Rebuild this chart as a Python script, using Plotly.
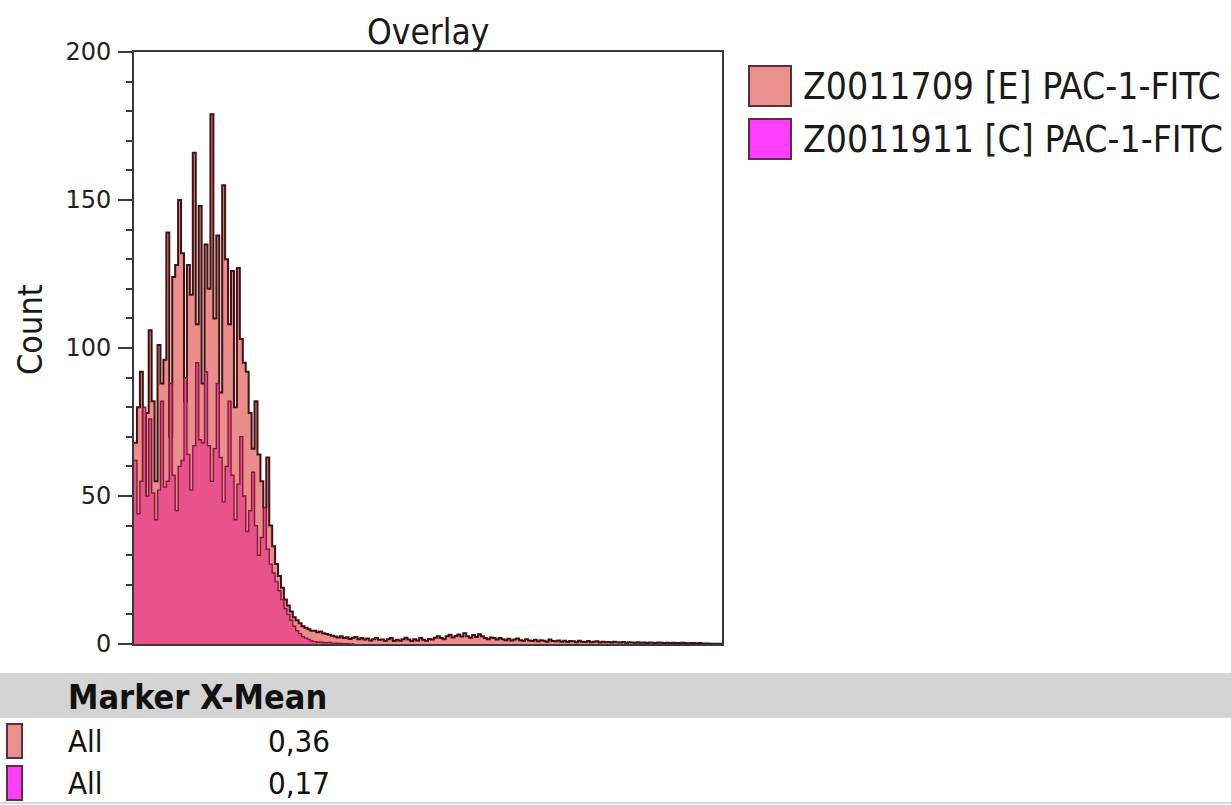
import plotly.graph_objects as go

# ---------------- data ----------------
series_names = ["Z0011709 [E] PAC-1-FITC", "Z0011911 [C] PAC-1-FITC"]
marker_labels = ["All", "All"]
x_means = ["0,36", "0,17"]
y_ticks = [0, 50, 100, 150, 200]

# counts per channel bin (200 bins across the axis)
counts_E = [
    68, 80, 92, 45, 78, 106, 82, 55, 101, 88,
    96, 139, 70, 124, 128, 150, 132, 82, 128, 118,
    166, 108, 148, 88, 135, 120, 179, 110, 138, 85,
    155, 130, 108, 126, 80, 127, 103, 95, 92, 78,
    66, 82, 64, 55, 46, 63, 40, 33, 27, 23,
    19, 15, 13, 11, 9, 8, 7, 6, 5.5, 5,
    4.5,
    4.5, 4, 4.2, 3.6, 3.4, 3.1,
    2.8, 2.5, 2.2, 2.6, 2.0, 2.3, 1.7, 2.1, 2.4, 1.6, 2.0, 1.5, 1.9, 1.2, 1.6, 2.0, 1.4,
    1.5, 1.1, 1.6, 2.0, 1.0, 1.4, 1.1, 1.6, 2.1, 1.5, 1.0, 1.6, 1.2, 2.0, 1.4, 1.1, 1.7,
    1.5, 2.1, 2.6, 2.0, 1.6, 2.6, 3.1, 2.2, 2.7, 3.2, 2.5, 3.6, 2.6, 2.1, 3.0, 2.4, 3.3, 2.6,
    2.0, 1.6, 2.2, 2.0, 1.5, 2.0,
    1.6, 1.3, 1.8, 1.2, 1.5, 1.9, 1.3, 1.1, 1.6, 1.2, 1.0, 1.4, 0.9, 1.3, 1.1, 0.8, 1.5, 1.0,
    0.9, 1.2, 0.8, 1.1, 0.7, 1.0, 0.9, 0.6, 1.1, 0.8, 0.7, 1.0, 0.6, 0.8, 0.9, 0.5, 0.8, 0.6,
    0.7, 0.5, 0.8, 0.6, 0.5, 0.7, 0.4, 0.6,
    0.5, 0.4, 0.6, 0.4, 0.5, 0.3, 0.5, 0.4, 0.3, 0.5, 0.4, 0.3, 0.4, 0.3, 0.4, 0.3, 0.3, 0.4,
    0.3, 0.2, 0.3, 0.3, 0.2, 0.3, 0.2, 0.2, 0.2, 0.1, 0.1, 0.1, 0.1,
]

counts_C = [
    62, 44, 55, 80, 50, 76, 51, 42, 52, 82,
    53, 55, 88, 57, 45, 60, 62, 90, 64, 52,
    67, 95, 69, 68, 92, 67, 55, 66, 88, 63,
    48, 60, 82, 57, 42, 54, 70, 50, 38, 45,
    58, 40, 30, 36, 46, 32, 27, 24, 21, 18,
    15, 12, 10, 8, 6, 4.5, 3.5, 2.5, 2, 1.5,
    1, 0.8, 0.6, 0.7, 0.5, 0.4, 0.5, 0.3, 0.3, 0.2,
    0.2, 0.1, 0.1, 0, 0,
]

# ---------------- styles ----------------
FILL_E = "#ec8d8b"
LINE_E = "#3e1212"
FILL_C = "#ea528c"
LINE_C = "#7a1d3c"
SWATCH_E = "#e9908c"
SWATCH_C = "#ff3dff"
FONT = "DejaVu Sans Condensed"

W, H = 1231, 805
PL, PR, PT, PB = 134, 722, 52, 644


def xp(px):
    return (px - PL) / (PR - PL)


def yp(py):
    return (PB - py) / (PB - PT)


def step_xy(vals):
    xs = list(range(len(vals))) + [len(vals)]
    ys = list(vals) + [vals[-1]]
    return xs, ys


fig = go.Figure()
xe, ye = step_xy(counts_E)
fig.add_trace(go.Scatter(x=xe, y=ye, mode="lines", line=dict(shape="hv", color=LINE_E, width=2),
                         fill="tozeroy", fillcolor=FILL_E, name=series_names[0], showlegend=False,
                         hoverinfo="skip"))
xc, yc = step_xy(counts_C)
fig.add_trace(go.Scatter(x=xc, y=yc, mode="lines", line=dict(shape="hv", color=LINE_C, width=1.4),
                         fill="tozeroy", fillcolor=FILL_C, name=series_names[1], showlegend=False,
                         hoverinfo="skip"))

shapes = []
annotations = []

# title
annotations.append(dict(text="Overlay", x=xp(428), y=yp(32), xref="paper", yref="paper",
                        showarrow=False, font=dict(family=FONT, size=35, color="#1a1a1a"),
                        xanchor="center", yanchor="middle"))
# y title
annotations.append(dict(text="Count", x=xp(30), y=yp(330), xref="paper", yref="paper",
                        showarrow=False, textangle=-90, font=dict(family=FONT, size=34, color="#1a1a1a"),
                        xanchor="center", yanchor="middle"))

# legend
leg_rows = [(86, SWATCH_E), (139, SWATCH_C)]
for (cy, col), name in zip(leg_rows, series_names):
    shapes.append(dict(type="rect", xref="paper", yref="paper", x0=xp(749), x1=xp(791),
                       y0=yp(cy - 20), y1=yp(cy + 20), fillcolor=col,
                       line=dict(color="#5a3040", width=2)))
    annotations.append(dict(text=name, x=xp(801), y=yp(cy), xref="paper", yref="paper",
                            showarrow=False, font=dict(family=FONT, size=37, color="#1a1a1a"),
                            xanchor="left", yanchor="middle"))

# table
shapes.append(dict(type="rect", xref="paper", yref="paper", x0=xp(0), x1=xp(W),
                   y0=yp(718), y1=yp(673), fillcolor="#d4d4d4", line=dict(width=0)))
shapes.append(dict(type="line", xref="paper", yref="paper", x0=xp(0), x1=xp(W),
                   y0=yp(803), y1=yp(803), line=dict(color="#d8d8d8", width=2)))
annotations.append(dict(text="<b>Marker X-Mean</b>", x=xp(66), y=yp(697), xref="paper", yref="paper",
                        showarrow=False, font=dict(family=FONT, size=34, color="#111111"),
                        xanchor="left", yanchor="middle"))
row_y = [741, 783]
for cy, col, lab, val in zip(row_y, [SWATCH_E, SWATCH_C], marker_labels, x_means):
    shapes.append(dict(type="rect", xref="paper", yref="paper", x0=xp(7), x1=xp(22),
                       y0=yp(cy - 17), y1=yp(cy + 17), fillcolor=col,
                       line=dict(color="#5a3040", width=2)))
    annotations.append(dict(text=lab, x=xp(66), y=yp(cy), xref="paper", yref="paper",
                            showarrow=False, font=dict(family=FONT, size=31, color="#111111"),
                            xanchor="left", yanchor="middle"))
    annotations.append(dict(text=val, x=xp(332), y=yp(cy), xref="paper", yref="paper",
                            showarrow=False, font=dict(family=FONT, size=31, color="#111111"),
                            xanchor="right", yanchor="middle"))

fig.update_layout(
    width=W, height=H, autosize=False,
    font=dict(family="DejaVu Sans", size=24, color="#222222"),
    margin=dict(l=PL, r=W - PR, t=PT, b=H - PB, pad=0),
    paper_bgcolor="white", plot_bgcolor="white",
    showlegend=False,
    shapes=shapes, annotations=annotations,
    xaxis=dict(range=[0, 200], showgrid=False, zeroline=False, showticklabels=False, ticks="",
               showline=True, mirror=True, linecolor="#3a3a3a", linewidth=2),
    yaxis=dict(range=[0, 200], showgrid=False, zeroline=False, tickmode="array", tickvals=y_ticks,
               ticks="outside", ticklen=14, tickwidth=1.5, tickcolor="#3a3a3a",
               tickfont=dict(family="DejaVu Sans", size=24, color="#222222"),
               ticklabelstandoff=2,
               minor=dict(dtick=10, ticks="outside", ticklen=6, tickwidth=1.5, tickcolor="#3a3a3a"),
               showline=True, mirror=True, linecolor="#3a3a3a", linewidth=2),
)

fig.write_html("out.html")
